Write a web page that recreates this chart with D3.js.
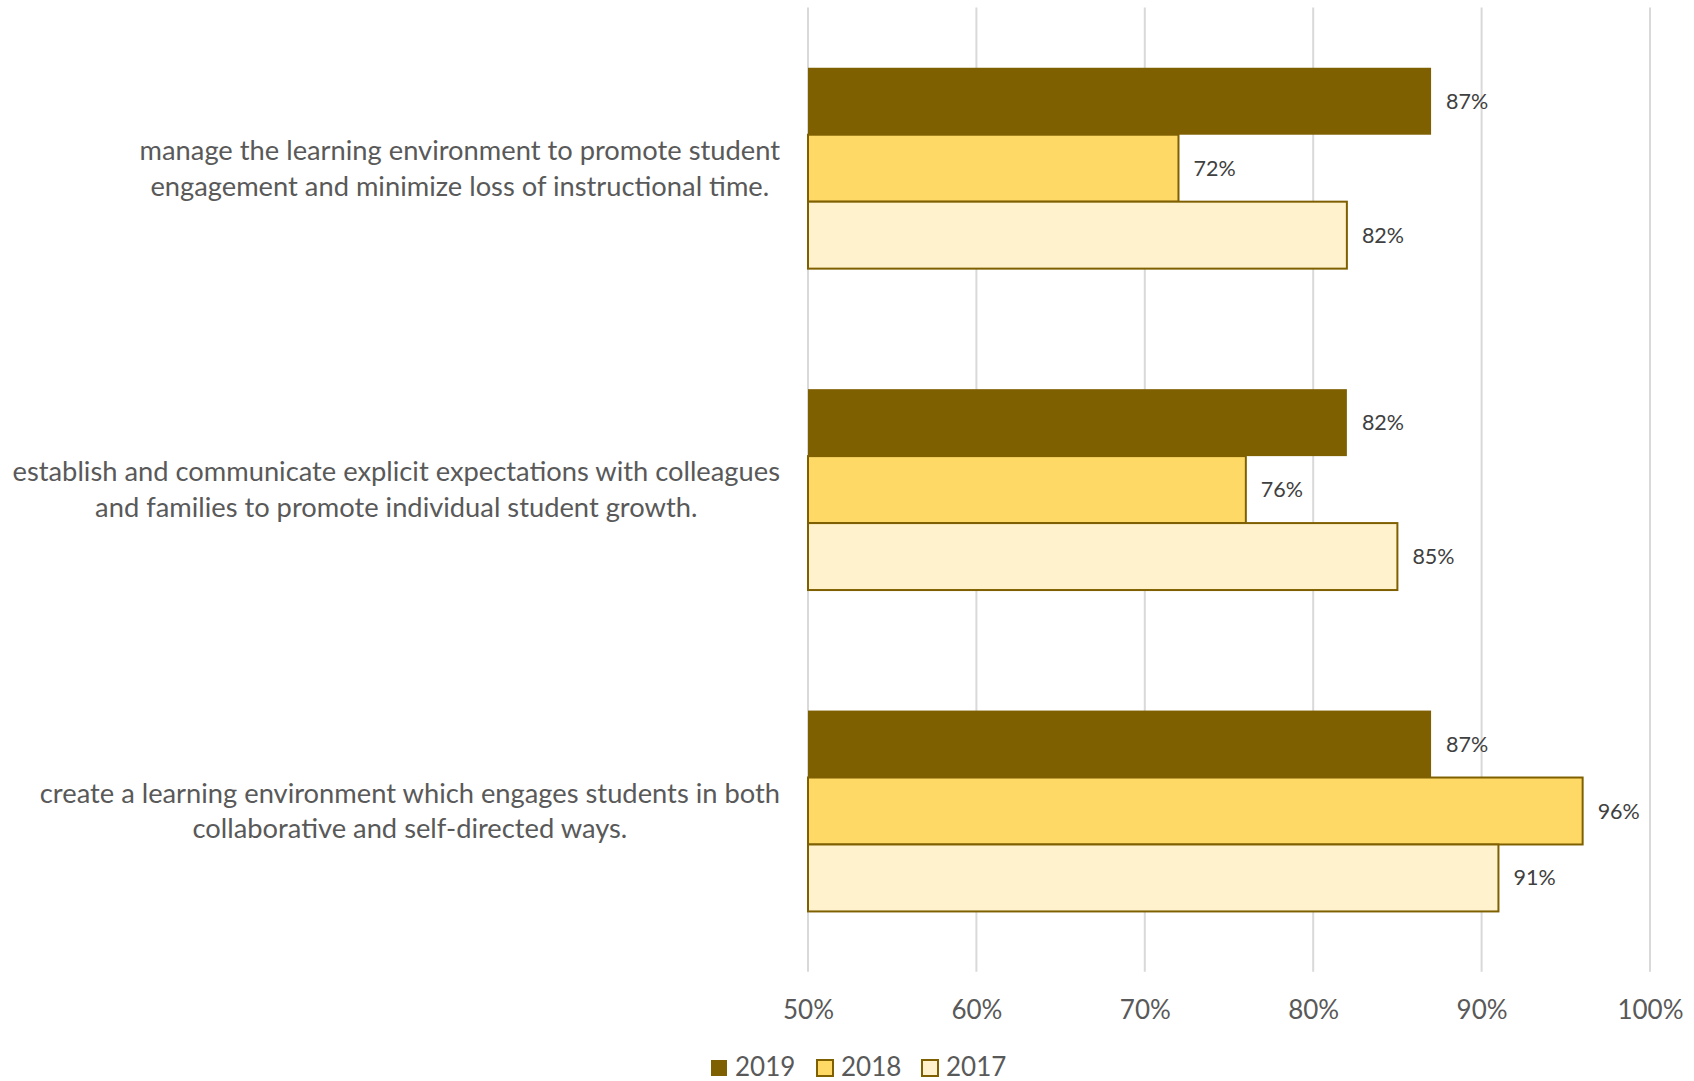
<!DOCTYPE html>
<html>
<head>
<meta charset="utf-8">
<script src="https://cdn.jsdelivr.net/npm/d3@7"></script>
<style>
  html, body { margin: 0; padding: 0; background: #fff; }
  svg { display: block; }
  text { font-family: Lato, "Open Sans", sans-serif; }
</style>
</head>
<body>
<svg id="chart" width="1694" height="1081"></svg>
<script>
// ---- data ----
const categories = [
  "manage the learning environment to promote student engagement and minimize loss of instructional time.",
  "establish and communicate explicit expectations with colleagues and families to promote individual student growth.",
  "create a learning environment which engages students in both collaborative and self-directed ways."
];
const categoryLines = [
  ["manage the learning environment to promote student", "engagement and minimize loss of instructional time."],
  ["establish and communicate explicit expectations with colleagues", "and families to promote individual student growth."],
  ["create a learning environment which engages students in both", "collaborative and self-directed ways."]
];
const seriesNames = ["2019", "2018", "2017"];
const values2019 = [0.87, 0.82, 0.87];
const values2018 = [0.72, 0.76, 0.96];
const values2017 = [0.82, 0.85, 0.91];
const tickValues = [0.5, 0.6, 0.7, 0.8, 0.9, 1.0];
const seriesValues = { "2019": values2019, "2018": values2018, "2017": values2017 };

// ---- styles ----
const colors = { "2019": "#7F6000", "2018": "#FFD966", "2017": "#FFF2CC" };
const strokeColor = "#7F6000";
const gridColor = "#d9d9d9";
const textColor = "#595959";
const labelColor = "#404040";

const svg = d3.select("#chart");
const plot = { left: 808, right: 1650, top: 7.5, bottom: 971.7 };

const x = d3.scaleLinear().domain([0.5, 1.0]).range([plot.left, plot.right]);
const y = d3.scaleBand().domain(d3.range(categories.length)).range([plot.top, plot.bottom]).padding(0);
const bandH = y.bandwidth();
const groupH = bandH * 0.625;
const ySub = d3.scaleBand().domain(seriesNames).range([(bandH - groupH) / 2, (bandH + groupH) / 2]).padding(0);

// gridlines
svg.append("g").selectAll("line").data(tickValues).join("line")
  .attr("x1", d => x(d)).attr("x2", d => x(d))
  .attr("y1", plot.top).attr("y2", plot.bottom)
  .attr("stroke", gridColor).attr("stroke-width", 2);

// x axis tick labels
const xAxis = d3.axisBottom(x).tickValues(tickValues).tickFormat(d3.format(".0%")).tickSize(0).tickPadding(0);
const axG = svg.append("g").attr("transform", `translate(0, ${plot.bottom})`).call(xAxis);
axG.select(".domain").remove();
axG.selectAll("text")
  .attr("y", 38).attr("dy", "0.35em")
  .attr("fill", textColor).style("font-size", "26px").style("font-family", "Lato, sans-serif");

// bars
const groups = svg.append("g").selectAll("g").data(categories).join("g")
  .attr("transform", (d, i) => `translate(0, ${y(i)})`);

groups.each(function (c, i) {
  const g = d3.select(this);
  const rows = seriesNames.map(s => ({ s, v: seriesValues[s][i] }));
  g.selectAll("rect").data(rows).join("rect")
    .attr("x", x(0.5))
    .attr("y", d => ySub(d.s))
    .attr("width", d => x(d.v) - x(0.5))
    .attr("height", ySub.bandwidth())
    .attr("fill", d => colors[d.s])
    .attr("stroke", strokeColor)
    .attr("stroke-width", d => d.s === "2019" ? 0 : 2);
  g.selectAll("text.val").data(rows).join("text")
    .attr("class", "val")
    .attr("x", d => x(d.v) + 15)
    .attr("y", d => ySub(d.s) + ySub.bandwidth() / 2)
    .attr("dy", "0.35em")
    .attr("fill", labelColor)
    .style("font-size", "21.5px")
    .text(d => d3.format(".0%")(d.v));
});

// category labels (centered lines, block right-aligned)
const labelRight = 780;
const lineH = 35.7;
categoryLines.forEach((lines, i) => {
  const cy = y(i) + bandH / 2;
  const t = svg.append("g");
  const texts = lines.map((ln, k) => t.append("text")
    .attr("y", cy + (k - (lines.length - 1) / 2) * lineH)
    .attr("dy", "0.35em")
    .attr("text-anchor", "middle")
    .attr("fill", textColor)
    .style("font-size", "27.3px")
    .text(ln));
  const maxW = d3.max(texts, tx => tx.node().getComputedTextLength());
  texts.forEach(tx => tx.attr("x", labelRight - maxW / 2));
});

// legend
const legendY = 1067;
const legendItems = [
  { s: "2019", x: 711 },
  { s: "2018", x: 817 },
  { s: "2017", x: 922 }
];
const lg = svg.append("g");
legendItems.forEach(it => {
  lg.append("rect")
    .attr("x", it.x).attr("y", legendY - 7).attr("width", 16).attr("height", 16)
    .attr("fill", colors[it.s]).attr("stroke", strokeColor).attr("stroke-width", it.s === "2019" ? 0 : 2);
  lg.append("text")
    .attr("x", it.x + 24).attr("y", legendY).attr("dy", "0.35em")
    .attr("fill", textColor).style("font-size", "26px")
    .text(it.s);
});
</script>
</body>
</html>
